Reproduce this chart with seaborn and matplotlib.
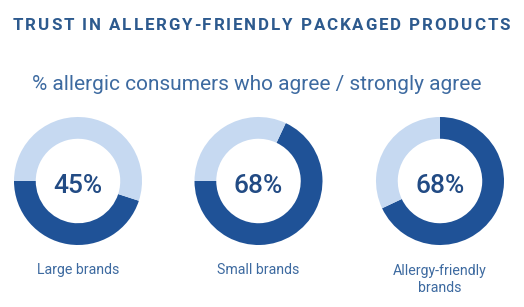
import matplotlib
matplotlib.use("Agg")
import matplotlib.pyplot as plt
import seaborn as sns

sns.set_style("white")
plt.rcParams['font.family'] = ['Roboto', 'DejaVu Sans']

# data
categories = ["Large brands", "Small brands", "Allergy-friendly\nbrands"]
agree_pct = [45, 68, 68]
pct_labels = ["45%", "68%", "68%"]
title = "TRUST IN ALLERGY-FRIENDLY PACKAGED PRODUCTS"
subtitle = "% allergic consumers who agree / strongly agree"

DARK = "#1f5297"
LIGHT = "#c6d9f1"
TITLE_C = "#2d5a8e"
TEXT_C = "#3d6aa0"
PCT_C = "#224b84"

W, H = 524, 307
fig = plt.figure(figsize=(W / 100, H / 100), dpi=100)
fig.patch.set_facecolor("white")

# layout (pixels)
centers = [(78, 181), (258.5, 181), (440, 181)]
R = 64
start_angles = [180, 180, 90]
ccw = [True, True, False]
label_baseline = [274, 274, 292]

for i, (cx, cy) in enumerate(centers):
    ax = fig.add_axes([(cx - R) / W, (H - cy - R) / H, 2 * R / W, 2 * R / H])
    vals = [agree_pct[i], 100 - agree_pct[i]]
    ax.pie(vals, colors=[DARK, LIGHT], startangle=start_angles[i],
           counterclock=ccw[i], radius=1.0,
           wedgeprops=dict(width=0.34, linewidth=0, antialiased=True))
    ax.set_xlim(-1, 1)
    ax.set_ylim(-1, 1)
    ax.set_aspect("equal")
    ax.axis("off")
    fig.text(cx / W, 1 - 193 / H, pct_labels[i], ha="center", va="baseline",
             fontsize=19, color=PCT_C, fontweight="medium")
    fig.text(cx / W, 1 - label_baseline[i] / H, categories[i], ha="center",
             va="baseline", fontsize=10.2, color=TEXT_C, linespacing=1.25)

# subtitle
fig.text(256.5 / W, 1 - 90 / H, subtitle, ha="center", va="baseline",
         fontsize=15, color=TEXT_C)

# title with letter spacing
renderer = fig.canvas.get_renderer()
x0, x1 = 13, 510
chars = list(title)
widths = []
tmp = []
for ch in chars:
    t = fig.text(0, 0, ch if ch != " " else "\u00a0", fontsize=12.2, fontweight="bold")
    bb = t.get_window_extent(renderer=renderer)
    widths.append(bb.width if ch != " " else 4.5)
    tmp.append(t)
for t in tmp:
    t.remove()
total = sum(widths)
gap = (x1 - x0 - total) / (len(chars) - 1)
x = x0
for ch, w in zip(chars, widths):
    if ch != " ":
        fig.text(x / W, 1 - 30 / H, ch, ha="left", va="baseline",
                 fontsize=12.2, fontweight="bold", color=TITLE_C)
    x += w + gap

fig.savefig("out.png", dpi=100, facecolor="white")
